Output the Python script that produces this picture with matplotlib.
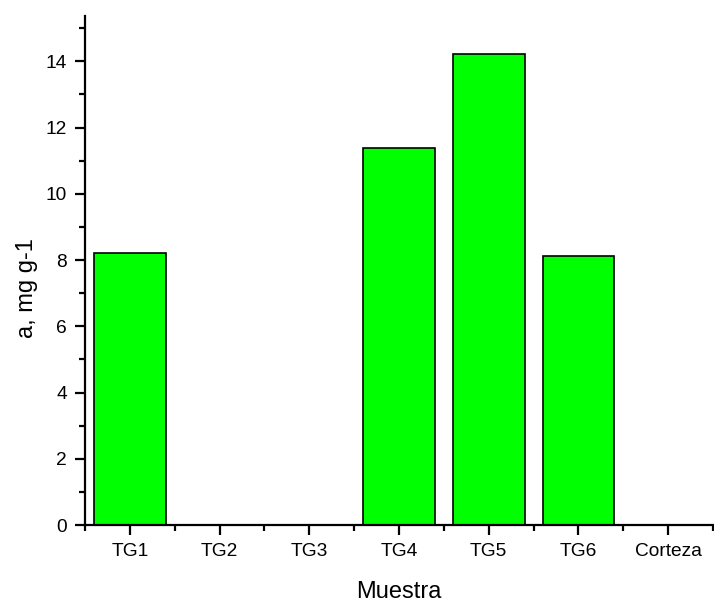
import matplotlib

matplotlib.use("Agg")
import matplotlib.pyplot as plt
import numpy as np
from matplotlib.ticker import MultipleLocator, FixedLocator

plt.rcParams["font.family"] = ["Liberation Sans", "DejaVu Sans"]

samples = ["TG1", "TG2", "TG3", "TG4", "TG5", "TG6", "Corteza"]
values = [8.2, 0, 0, 11.38, 14.23, 8.13, 0]

fig = plt.figure(figsize=(7.14, 6.02), dpi=100)
ax = fig.add_axes([85 / 714, 77 / 602, 628 / 714, 509 / 602])

x = np.arange(len(samples))
ax.bar(x, values, width=0.8, color="#00ff00", edgecolor="black", linewidth=1.2)

ax.set_xlim(-0.5, 6.5)
ax.set_ylim(0, 15.37)
ax.set_xticks(x)
ax.set_xticklabels(samples)
ax.xaxis.set_minor_locator(FixedLocator(np.arange(-0.5, 7, 1.0)))
ax.yaxis.set_major_locator(MultipleLocator(2))
ax.yaxis.set_minor_locator(MultipleLocator(1))

for side in ("top", "right"):
    ax.spines[side].set_visible(False)
for side in ("left", "bottom"):
    ax.spines[side].set_linewidth(1.6)

ax.tick_params(which="major", direction="out", length=7, width=1.6, labelsize=13.8, pad=6)
ax.tick_params(which="minor", direction="out", length=4, width=1.6)

ax.set_xlabel("Muestra", fontsize=17, labelpad=15)
ax.set_ylabel("a, mg g-1", fontsize=17)
ax.yaxis.set_label_coords(-0.075, 0.466)

fig.savefig("out.png", dpi=100)
